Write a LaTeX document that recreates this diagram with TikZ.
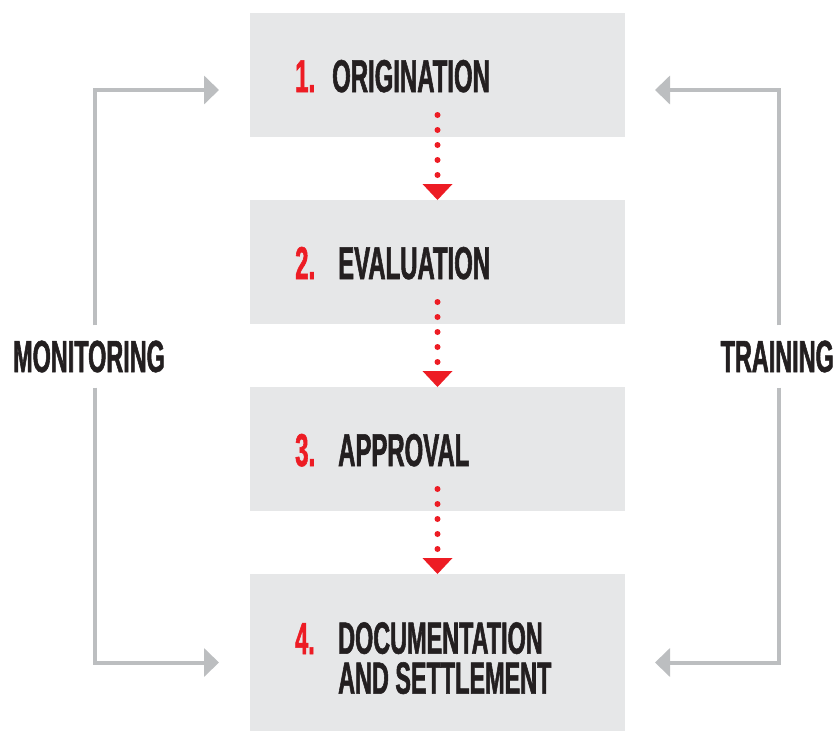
\documentclass[tikz,border=0pt]{standalone}
\usepackage{fontspec}
\setmainfont{Liberation Sans}[FakeStretch=0.52]
\usetikzlibrary{arrows.meta,calc}
\definecolor{boxgray}{HTML}{E6E7E8}
\definecolor{accred}{HTML}{ED1C24}
\definecolor{linegray}{HTML}{BCBEC0}
\definecolor{ink}{HTML}{231F20}
\newfontfamily\heavyfont{Liberation Sans}[FakeStretch=0.52, FakeBold=1.2, UprightFont=*-Bold]
\begin{document}
\begin{tikzpicture}[x=1pt,y=-1pt,
  stage/.style={fill=boxgray, draw=none, minimum width=375pt, inner sep=0pt, outer sep=0pt},
  num/.style={inner sep=0pt, text=accred, font=\fontsize{46}{40}\heavyfont},
  ttl/.style={inner sep=0pt, text=ink, font=\fontsize{46}{40}\heavyfont, align=left},
  side/.style={inner xsep=0pt, inner ysep=15pt, text=ink, font=\fontsize{45}{40}\heavyfont},
  loopline/.style={draw=linegray, line width=4pt, -{Triangle[length=15pt,width=28pt]}},
  dotline/.style={draw=accred, line width=6pt, line cap=round, dash pattern=on 0pt off 15pt},
  tiptri/.style={fill=accred}]
\useasboundingbox (0,0) rectangle (839,732);
\coordinate (lx) at (95,0);
\coordinate (rx) at (779,0);
% stages
\node[stage, minimum height=124pt] (b1) at (437.5,75) {};
\node[stage, minimum height=124pt] (b2) at (437.5,262) {};
\node[stage, minimum height=124pt] (b3) at (437.5,449) {};
\node[stage, minimum height=157pt] (b4) at (437.5,652.5) {};
% labels
\node[num, anchor=base west] (n1) at (295,92) {1.};
\node[ttl, anchor=base west] (t1) at (332,92) {ORIGINATION};
\node[num, anchor=base west] (n2) at (295,279) {2.};
\node[ttl, anchor=base west] (t2) at (338,279) {EVALUATION};
\node[num, anchor=base west] (n3) at (295,466) {3.};
\node[ttl, anchor=base west] (t3) at (338,466) {APPROVAL};
\node[num, anchor=base west, font=\fontsize{45}{40}\heavyfont] (n4) at (295,654) {4.};
\node[ttl, anchor=north west, font=\fontsize{45}{40}\heavyfont] (t4) at (338,622) {DOCUMENTATION\\AND SETTLEMENT};
% side labels
\node[side, anchor=base west] (mon) at (13,372) {MONITORING};
\node[side, anchor=base east] (trn) at (834,372) {TRAINING};
% red dotted connectors
\foreach \a/\b in {b1/b2, b2/b3, b3/b4}{
  \draw[dotline] ($(\a.south)+(0,-22)$) -- ($(\b.north)+(0,-17)$);
  \fill[tiptri] (\b.north) -- ++(-15,-16) -- ++(30,0) -- cycle;
}
% gray loops
\draw[loopline, shorten >=31pt] (mon.north -| lx) |- ([yshift=-15pt]b1.west);
\draw[loopline, shorten >=31pt] (mon.south -| lx) |- ([yshift=-10pt]b4.west);
\draw[loopline, shorten >=30pt] (trn.north -| rx) |- ([yshift=-15pt]b1.east);
\draw[loopline, shorten >=30pt] (trn.south -| rx) |- ([yshift=-10pt]b4.east);
\end{tikzpicture}
\end{document}
